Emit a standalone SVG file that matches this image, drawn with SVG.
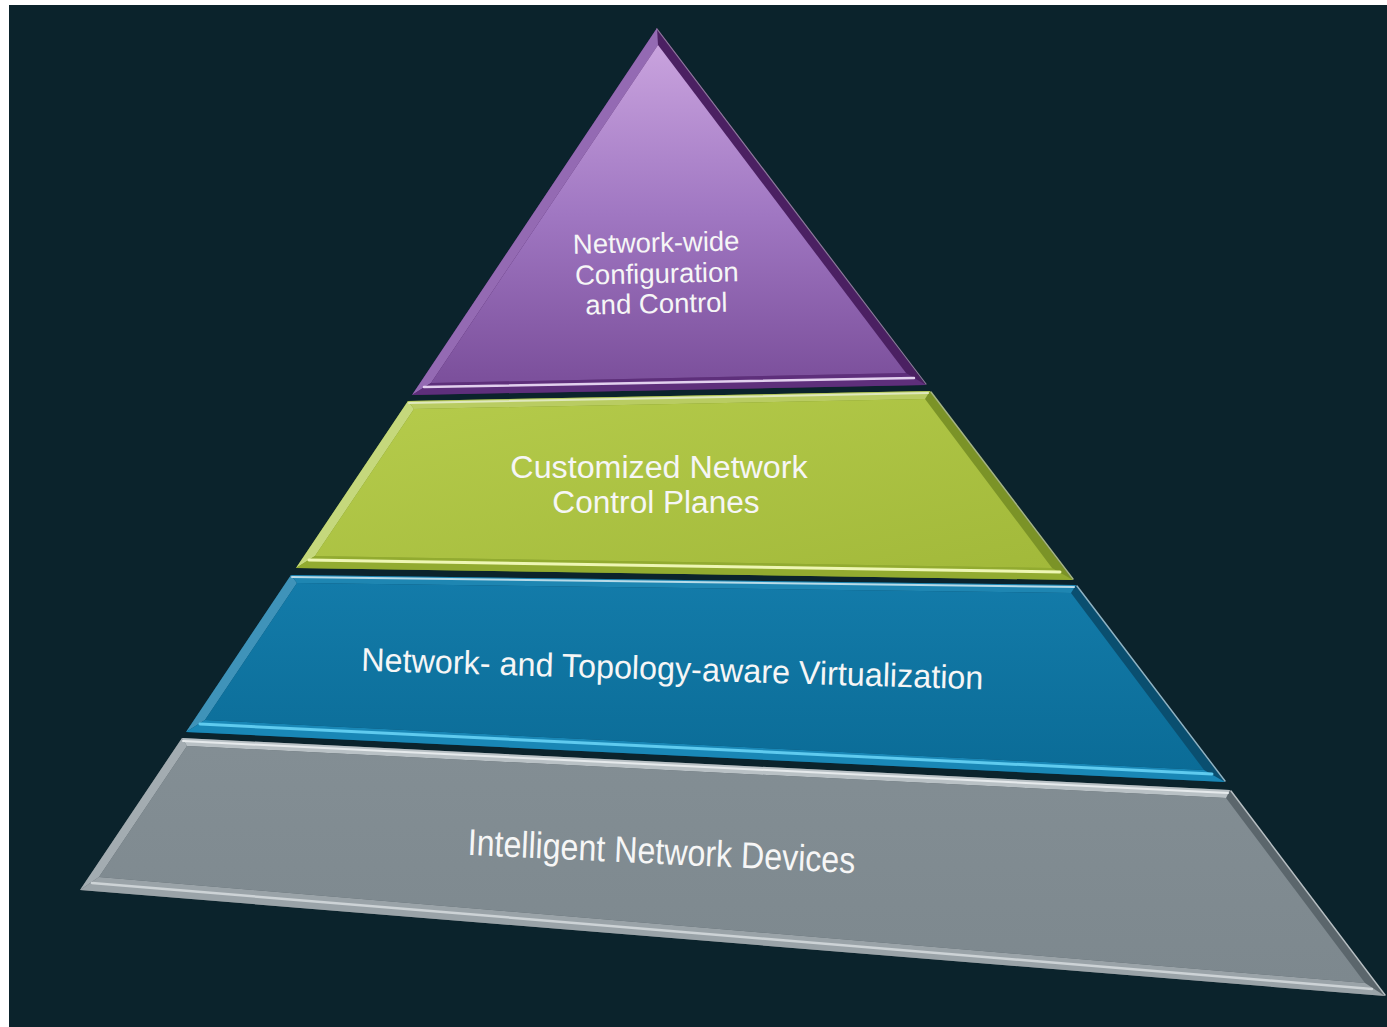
<svg xmlns="http://www.w3.org/2000/svg" width="1387" height="1027" viewBox="0 0 1387 1027">
<style>
.lbl{font-family:"Liberation Sans",Arial,sans-serif;fill:#f6f6f6;text-anchor:middle}
.hl{fill:none;stroke-linecap:round}
</style>
<defs>
<linearGradient id="gP" x1="0" y1="0" x2="0" y2="1">
<stop offset="0" stop-color="#c9a3de"/>
<stop offset="0.5" stop-color="#a077c2"/>
<stop offset="1" stop-color="#7b4f9b"/>
</linearGradient>
<linearGradient id="gG" x1="0" y1="0" x2="1" y2="1">
<stop offset="0" stop-color="#b6cc4c"/>
<stop offset="1" stop-color="#a2b93a"/>
</linearGradient>
<linearGradient id="gB" x1="0" y1="0" x2="0" y2="1">
<stop offset="0" stop-color="#137ba9"/>
<stop offset="1" stop-color="#0b6c97"/>
</linearGradient>
<linearGradient id="gY" x1="0" y1="0" x2="0" y2="1">
<stop offset="0" stop-color="#838e94"/>
<stop offset="1" stop-color="#7d888e"/>
</linearGradient>
</defs>
<rect x="0" y="0" width="1387" height="1027" fill="#ffffff"/>
<rect x="9" y="5" width="1378" height="1022" fill="#0b232c"/>

<g id="layer-devices">
<polygon points="182,738 1230,790 1385,996 80,890" fill="#5b666c"/>
<polygon points="182,738 187,746 99,877 80,890" fill="#a3acb1"/>
<polygon points="80,890 99,877 1365,983 1385,996" fill="#9aa3a8"/>
<polygon points="182,738 1230,790 1226,798 187,746" fill="#b9c1c5"/>
<polygon points="187,746 1226,798 1365,983 99,877" fill="url(#gY)"/>
<line class="hl" x1="92" y1="883" x2="1372" y2="989" stroke="#cdd3d6" stroke-width="2.5"/>
<line class="hl" x1="183" y1="741" x2="1228" y2="793" stroke="#e6eaec" stroke-width="2"/>
<line class="hl" x1="1231" y1="791" x2="1385" y2="995" stroke="#b7bec2" stroke-width="1.5"/>
<text class="lbl" font-size="37" transform="translate(661,864) rotate(2.7) scale(0.87,1)">Intelligent Network Devices</text>
</g>

<g id="layer-virtualization">
<polygon points="291,575 1076,585 1225,782 186,732" fill="#0a4f70"/>
<polygon points="291,575 297,583 205,720 186,732" fill="#3f93b9"/>
<polygon points="186,732 205,720 1204,770 1225,782" fill="#1987b6"/>
<polygon points="291,575 1076,585 1071,593 297,583" fill="#1e86b2"/>
<polygon points="297,583 1071,593 1204,770 205,720" fill="url(#gB)"/>
<line class="hl" x1="200" y1="724" x2="1212" y2="774" stroke="#5fcbef" stroke-width="3"/>
<line class="hl" x1="292" y1="577" x2="1074" y2="587" stroke="#b8dbe8" stroke-width="2"/>
<line class="hl" x1="1077" y1="586" x2="1225" y2="781" stroke="#8fb3c4" stroke-width="1.5"/>
<text class="lbl" font-size="33" transform="translate(672,680) rotate(1.7) scale(0.98,1)">Network- and Topology-aware Virtualization</text>
</g>

<g id="layer-control-planes">
<polygon points="408,401 930,391 1073,580 296,568" fill="#7b9327"/>
<polygon points="408,401 414,409 315,556 296,568" fill="#c5d87c"/>
<polygon points="296,568 315,556 1052,568 1073,580" fill="#92ab30"/>
<polygon points="408,401 930,391 925,399 414,409" fill="#b9cc62"/>
<polygon points="414,409 925,399 1052,568 315,556" fill="url(#gG)"/>
<line class="hl" x1="309" y1="560" x2="1060" y2="572" stroke="#eef6b4" stroke-width="3"/>
<line class="hl" x1="409" y1="403" x2="928" y2="393" stroke="#dfe8bd" stroke-width="2"/>
<line class="hl" x1="931" y1="392" x2="1073" y2="579" stroke="#a6b584" stroke-width="1.5"/>
<text class="lbl" font-size="31" transform="translate(659,478) scale(1.04,1)">Customized Network</text>
<text class="lbl" font-size="31" transform="translate(656,513) scale(1.02,1)">Control Planes</text>
</g>

<g id="layer-configuration">
<polygon points="657,28 926,385 412,395" fill="#4b2062"/>
<polygon points="657,28 658,45 431,383 412,395" fill="#946ab3"/>
<polygon points="412,395 431,383 906,373 926,385" fill="#5e2f7b"/>
<polygon points="658,45 906,373 431,383" fill="url(#gP)"/>
<line class="hl" x1="424" y1="387" x2="914" y2="378" stroke="#e2d0ee" stroke-width="2.5"/>
<line class="hl" x1="657" y1="29" x2="926" y2="384" stroke="#8e7a9c" stroke-width="1.2"/>
<g transform="rotate(-1.2,657,282)">
<text class="lbl" font-size="27.5" x="657" y="252">Network-wide</text>
<text class="lbl" font-size="27.5" x="657" y="283">Configuration</text>
<text class="lbl" font-size="27.5" x="656" y="313">and Control</text>
</g>
</g>
</svg>
